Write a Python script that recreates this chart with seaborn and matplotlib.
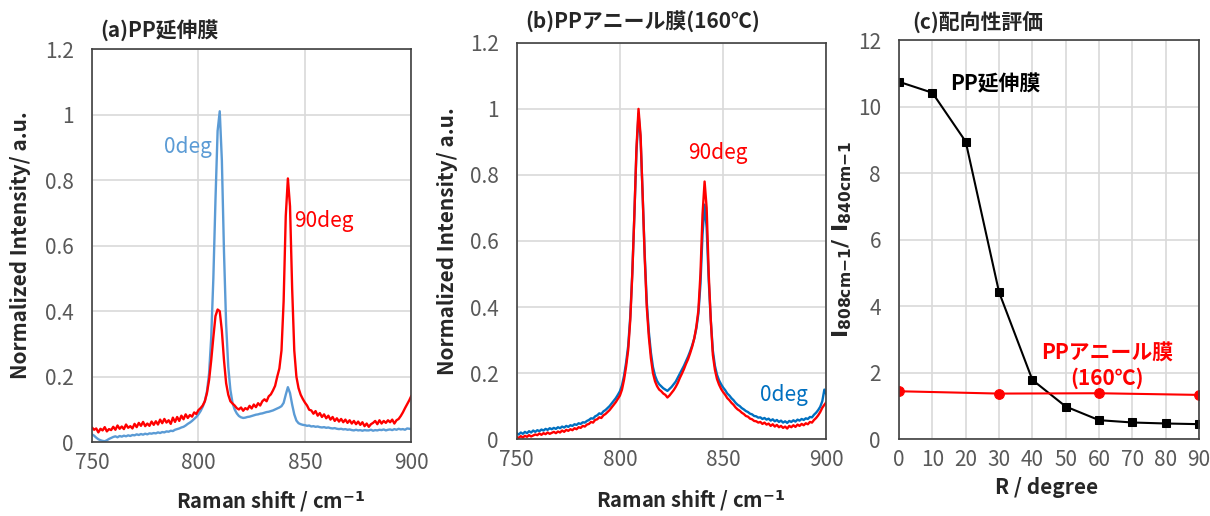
import numpy as np
import pandas as pd
import matplotlib.pyplot as plt
import seaborn as sns

sns.set_theme(style="white")
plt.rcParams['font.family'] = ['Noto Sans CJK JP', 'DejaVu Sans']
plt.rcParams['mathtext.fontset'] = 'dejavusans'

# Raman shift grid (cm-1)
shift = np.arange(750, 901, 1)

# (a) PP stretched film
a_0deg = [
    0.024, 0.020, 0.014, 0.009, 0.006, 0.004, 0.003, 0.006, 0.010, 0.013,
    0.016, 0.018, 0.015, 0.019, 0.017, 0.020, 0.018, 0.021, 0.019, 0.022,
    0.021, 0.024, 0.022, 0.025, 0.023, 0.026, 0.024, 0.027, 0.026, 0.028,
    0.027, 0.030, 0.028, 0.031, 0.030, 0.033, 0.032, 0.035, 0.034, 0.038,
    0.040, 0.042, 0.045, 0.047, 0.051, 0.056, 0.060, 0.065, 0.071, 0.077,
    0.085, 0.095, 0.108, 0.125, 0.155, 0.210, 0.320, 0.500, 0.740, 0.950,
    1.010, 0.860, 0.580, 0.360, 0.230, 0.160, 0.120, 0.100, 0.088, 0.080,
    0.076, 0.074, 0.075, 0.077, 0.078, 0.080, 0.082, 0.084, 0.085, 0.087,
    0.088, 0.090, 0.092, 0.093, 0.095, 0.097, 0.100, 0.103, 0.106, 0.110,
    0.120, 0.145, 0.168, 0.150, 0.115, 0.085, 0.066, 0.058, 0.055, 0.053,
    0.052, 0.050, 0.051, 0.048, 0.049, 0.047, 0.048, 0.046, 0.045, 0.046,
    0.044, 0.045, 0.043, 0.042, 0.043, 0.041, 0.040, 0.041, 0.039, 0.040,
    0.038, 0.039, 0.037, 0.036, 0.038, 0.036, 0.037, 0.035, 0.037, 0.036,
    0.036, 0.038, 0.035, 0.037, 0.036, 0.038, 0.037, 0.039, 0.036, 0.038,
    0.039, 0.037, 0.040, 0.038, 0.041, 0.039, 0.040, 0.038, 0.042, 0.041,
    0.040]
a_90deg = [
    0.045, 0.038, 0.042, 0.030, 0.041, 0.036, 0.046, 0.033, 0.040, 0.037,
    0.047, 0.038, 0.051, 0.041, 0.048, 0.040, 0.054, 0.044, 0.049, 0.042,
    0.056, 0.046, 0.059, 0.050, 0.062, 0.049, 0.057, 0.050, 0.063, 0.053,
    0.064, 0.054, 0.069, 0.058, 0.071, 0.060, 0.067, 0.056, 0.075, 0.062,
    0.077, 0.065, 0.081, 0.070, 0.085, 0.074, 0.083, 0.078, 0.091, 0.086,
    0.098, 0.104, 0.112, 0.125, 0.150, 0.190, 0.250, 0.320, 0.385, 0.405,
    0.400, 0.340, 0.250, 0.180, 0.145, 0.125, 0.118, 0.112, 0.104, 0.100,
    0.106, 0.096, 0.104, 0.100, 0.111, 0.103, 0.115, 0.107, 0.119, 0.112,
    0.125, 0.131, 0.125, 0.140, 0.146, 0.158, 0.172, 0.200, 0.225, 0.280,
    0.430, 0.690, 0.805, 0.720, 0.470, 0.280, 0.200, 0.165, 0.145, 0.132,
    0.121, 0.112, 0.099, 0.097, 0.087, 0.095, 0.081, 0.089, 0.077, 0.085,
    0.073, 0.081, 0.069, 0.077, 0.065, 0.073, 0.063, 0.071, 0.061, 0.069,
    0.059, 0.067, 0.057, 0.065, 0.055, 0.063, 0.053, 0.061, 0.049, 0.057,
    0.047, 0.055, 0.059, 0.065, 0.055, 0.067, 0.057, 0.065, 0.059, 0.067,
    0.061, 0.069, 0.057, 0.067, 0.071, 0.080, 0.091, 0.104, 0.116, 0.128,
    0.142]

# (b) PP annealed film (160C)
b_0deg = [
    0.018, 0.014, 0.020, 0.016, 0.022, 0.018, 0.024, 0.020, 0.026, 0.022,
    0.027, 0.024, 0.029, 0.026, 0.031, 0.028, 0.033, 0.030, 0.034, 0.031,
    0.036, 0.033, 0.038, 0.035, 0.040, 0.037, 0.042, 0.040, 0.045, 0.043,
    0.048, 0.046, 0.051, 0.050, 0.055, 0.058, 0.063, 0.062, 0.069, 0.072,
    0.078, 0.076, 0.084, 0.088, 0.094, 0.100, 0.108, 0.116, 0.124, 0.134,
    0.145, 0.163, 0.192, 0.232, 0.282, 0.370, 0.505, 0.680, 0.870, 0.985,
    0.910, 0.740, 0.560, 0.415, 0.325, 0.262, 0.218, 0.192, 0.176, 0.166,
    0.160, 0.154, 0.150, 0.146, 0.152, 0.158, 0.166, 0.174, 0.186, 0.198,
    0.210, 0.222, 0.236, 0.250, 0.266, 0.284, 0.305, 0.335, 0.380, 0.470,
    0.620, 0.710, 0.640, 0.480, 0.360, 0.268, 0.222, 0.195, 0.178, 0.166,
    0.156, 0.148, 0.138, 0.132, 0.124, 0.118, 0.110, 0.104, 0.100, 0.094,
    0.090, 0.085, 0.082, 0.077, 0.075, 0.070, 0.069, 0.065, 0.066, 0.061,
    0.064, 0.059, 0.062, 0.056, 0.060, 0.054, 0.058, 0.052, 0.056, 0.050,
    0.054, 0.049, 0.055, 0.052, 0.057, 0.053, 0.059, 0.056, 0.061, 0.058,
    0.063, 0.061, 0.067, 0.066, 0.074, 0.080, 0.088, 0.098, 0.115, 0.150,
    0.135]
b_90deg = [
    0.006, 0.004, 0.009, 0.005, 0.010, 0.007, 0.012, 0.008, 0.011, 0.014,
    0.012, 0.017, 0.013, 0.018, 0.015, 0.020, 0.016, 0.019, 0.022, 0.018,
    0.023, 0.020, 0.026, 0.022, 0.028, 0.025, 0.030, 0.027, 0.033, 0.030,
    0.036, 0.034, 0.040, 0.038, 0.044, 0.046, 0.052, 0.050, 0.058, 0.060,
    0.066, 0.064, 0.072, 0.076, 0.082, 0.088, 0.096, 0.104, 0.112, 0.122,
    0.132, 0.150, 0.180, 0.220, 0.270, 0.360, 0.500, 0.680, 0.880, 1.000,
    0.920, 0.740, 0.550, 0.400, 0.310, 0.245, 0.200, 0.175, 0.160, 0.150,
    0.145, 0.138, 0.134, 0.126, 0.132, 0.140, 0.148, 0.158, 0.170, 0.185,
    0.198, 0.212, 0.228, 0.242, 0.260, 0.280, 0.305, 0.340, 0.390, 0.500,
    0.680, 0.780, 0.700, 0.500, 0.360, 0.255, 0.210, 0.182, 0.165, 0.152,
    0.142, 0.134, 0.124, 0.118, 0.110, 0.104, 0.096, 0.090, 0.086, 0.080,
    0.076, 0.070, 0.068, 0.062, 0.060, 0.055, 0.054, 0.050, 0.052, 0.046,
    0.050, 0.044, 0.047, 0.040, 0.045, 0.038, 0.043, 0.036, 0.040, 0.034,
    0.038, 0.032, 0.040, 0.036, 0.042, 0.037, 0.044, 0.040, 0.046, 0.042,
    0.048, 0.045, 0.052, 0.050, 0.058, 0.064, 0.072, 0.082, 0.095, 0.104,
    0.112]

# (c) orientation evaluation: I808 / I840 vs rotation angle
r_stretched = [0, 10, 20, 30, 40, 50, 60, 70, 80, 90]
ratio_stretched = [10.75, 10.42, 8.95, 4.42, 1.78, 0.98, 0.57, 0.50, 0.47, 0.45]
r_annealed = [0, 30, 60, 90]
ratio_annealed = [1.44, 1.37, 1.38, 1.33]

RED = '#FF0000'
BLUE_A = '#5B9BD5'
BLUE_B = '#0070C0'
GRID = '#D9D9D9'
TICK = '#595959'

fig = plt.figure(figsize=(12.1, 5.16), dpi=100)
ax_a = fig.add_axes([0.076, 0.143, 0.264, 0.762])
ax_b = fig.add_axes([0.427, 0.149, 0.256, 0.768])
ax_c = fig.add_axes([0.743, 0.149, 0.248, 0.773])

spec_a = pd.DataFrame({'shift': shift, '0deg': a_0deg, '90deg': a_90deg})
spec_b = pd.DataFrame({'shift': shift, '0deg': b_0deg, '90deg': b_90deg})

sns.lineplot(data=spec_a, x='shift', y='0deg', ax=ax_a, color=BLUE_A, lw=1.7)
sns.lineplot(data=spec_a, x='shift', y='90deg', ax=ax_a, color=RED, lw=1.7)
sns.lineplot(data=spec_b, x='shift', y='0deg', ax=ax_b, color=BLUE_B, lw=1.7)
sns.lineplot(data=spec_b, x='shift', y='90deg', ax=ax_b, color=RED, lw=1.7)

sns.lineplot(x=r_stretched, y=ratio_stretched, ax=ax_c, color='black', lw=1.5,
             marker='s', markersize=6, markeredgecolor='black')
sns.lineplot(x=r_annealed, y=ratio_annealed, ax=ax_c, color=RED, lw=1.5,
             marker='o', markersize=7, markeredgecolor=RED)

xlab = r'Raman shift / cm$^{\mathbf{{-}1}}$'
panels = [(ax_a, '(a)PP延伸膜', 0.025, 1.048, 0.56, -0.150),
          (ax_b, '(b)PPアニール膜(160℃)', 0.029, 1.056, 0.561, -0.156)]
for ax, title, tx, ty, lx, ly in panels:
    ax.set_xlim(750, 900)
    ax.set_ylim(0, 1.2)
    ax.set_xticks([750, 800, 850, 900])
    ax.set_yticks([0, 0.2, 0.4, 0.6, 0.8, 1.0, 1.2])
    ax.set_yticklabels(['0', '0.2', '0.4', '0.6', '0.8', '1', '1.2'])
    ax.set_xlabel(xlab, fontsize=14.5, fontweight='bold', va='center')
    ax.xaxis.set_label_coords(lx, ly)
    ax.set_ylabel('Normalized Intensity/ a.u.', fontsize=15, fontweight='bold')
    ax.yaxis.set_label_coords(-0.19, 0.5)
    ax.text(tx, ty, title, transform=ax.transAxes, fontsize=15, fontweight='bold',
            ha='left', va='center')

ax_c.set_xlim(0, 90)
ax_c.set_ylim(0, 12)
ax_c.set_xticks(r_stretched)
ax_c.set_yticks([0, 2, 4, 6, 8, 10, 12])
ax_c.set_xlabel('R / degree', fontsize=15, fontweight='bold', va='center')
ax_c.xaxis.set_label_coords(0.49, -0.122)
ax_c.set_ylabel(r'$\mathbf{I_{808cm{-}1}/\ I_{840cm{-}1}}$', fontsize=16)
ax_c.yaxis.set_label_coords(-0.15, 0.5)
ax_c.text(0.043, 1.043, '(c)配向性評価', transform=ax_c.transAxes, fontsize=15,
          fontweight='bold', ha='left', va='center')

for ax in (ax_a, ax_b, ax_c):
    ax.grid(True, color=GRID, lw=1.2)
    ax.set_axisbelow(True)
    ax.tick_params(length=0, labelsize=15, labelcolor=TICK)
    ax.tick_params(axis='x', pad=7)
    ax.tick_params(axis='y', pad=13)
    for s in ax.spines.values():
        s.set_color('#404040')
        s.set_linewidth(1.2)

ax_a.text(795.3, 0.90, '0deg', color=BLUE_A, fontsize=15, ha='center', va='center')
ax_a.text(859, 0.675, '90deg', color=RED, fontsize=15, ha='center', va='center')
ax_b.text(847.6, 0.865, '90deg', color=RED, fontsize=15, ha='center', va='center')
ax_b.text(879.6, 0.134, '0deg', color=BLUE_B, fontsize=15, ha='center', va='center')
ax_c.text(29, 10.7, 'PP延伸膜', color='black', fontsize=15, fontweight='bold', ha='center', va='center')
ax_c.text(62.4, 2.6, 'PPアニール膜', color=RED, fontsize=15, fontweight='bold', ha='center', va='center')
ax_c.text(62.4, 1.83, '(160℃)', color=RED, fontsize=15, fontweight='bold', ha='center', va='center')

fig.savefig('out.png', dpi=100)
